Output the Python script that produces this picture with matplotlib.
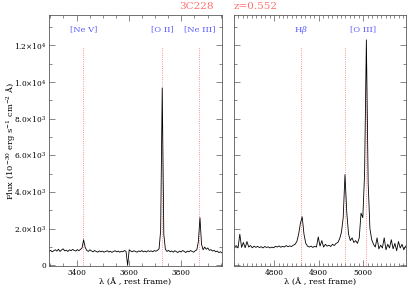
import matplotlib
matplotlib.use('Agg')
import matplotlib.pyplot as plt
import numpy as np
from matplotlib.ticker import MultipleLocator, FixedLocator, FixedFormatter

plt.rcParams['font.family'] = 'DejaVu Serif'
plt.rcParams['mathtext.fontset'] = 'dejavuserif'

# left panel spectrum, 3295..3955 A in 6 A steps
flux_left = [760, 820, 740, 800, 850, 780, 880, 760, 840, 900,
             790, 830, 760, 850, 800, 870, 820, 780, 860, 800,
             870, 950, 1400, 980, 820, 760, 850, 790, 740, 810,
             760, 720, 790, 740, 780, 720, 760, 800, 730, 770,
             710, 760, 800, 740, 780, 720, 770, 740, 810, 760,
             0, 850, 780, 740, 800, 760, 720, 790, 750, 810,
             740, 780, 730, 800, 760, 790, 740, 810, 770, 820,
             900, 1900, 9680, 1700, 880, 760, 820, 740, 790, 720,
             800, 750, 700, 780, 730, 810, 760, 700, 780, 740,
             810, 760, 720, 800, 850, 1300, 2600, 1150, 850, 1000,
             880, 950, 820, 860, 780, 820, 740, 780, 700, 740, 680]
wave_left = np.linspace(3295, 3955, len(flux_left))

# right panel spectrum, 4711..5095 A in 4 A steps
flux_right = [1000, 1080, 950, 1700, 980, 1250, 960, 1300, 1000, 1080,
              960, 1050, 980, 1040, 970, 1020, 950, 1030, 980, 1010,
              950, 1000, 960, 1040, 1000, 1060, 990, 1040, 1000, 1080,
              1020, 1060, 1030, 1100, 1150, 1300, 1700, 2300, 2650, 1700,
              1200, 1050, 1000, 1050, 980, 1040, 1000, 1550, 1050, 1350,
              1000, 1150, 1050, 1100, 1030, 1150, 1080, 1200, 1250, 1450,
              1800, 2600, 4950, 2900, 1700, 1350, 1500, 1250, 1350, 1200,
              1500, 2850, 2600, 5000, 12300, 4500, 2000, 1400, 1150, 1000,
              1500, 900, 1100, 950, 1500, 850, 1150, 950, 1400, 900,
              1200, 800, 1300, 950, 1150, 850, 1050]
wave_right = np.linspace(4711, 5095, len(flux_right))

lines_left = [3426, 3727, 3869]
names_left = ['[Ne V]', '[O II]', '[Ne III]']
lines_right = [4861, 4959, 5007]
names_right = ['H$\\beta$', '', '[O III]']
name_pos_right = [4861, 4959, 4999]

yticks = [0, 2000, 4000, 6000, 8000, 10000, 12000]
ylabels = ['0', r'2.0$\times$10$^3$', r'4.0$\times$10$^3$', r'6.0$\times$10$^3$',
           r'8.0$\times$10$^3$', r'1.0$\times$10$^4$', r'1.2$\times$10$^4$']

fig = plt.figure(figsize=(4.07, 2.90), dpi=100)
ax1 = fig.add_axes([0.1204, 0.083, 0.425, 0.865])
ax2 = fig.add_axes([0.575, 0.083, 0.4226, 0.865])

red = '#ff7070'
blue = '#5a5aff'

for ax, w, f, lns in [(ax1, wave_left, flux_left, lines_left),
                      (ax2, wave_right, flux_right, lines_right)]:
    for l in lns:
        ax.plot([l, l], [0, 11900], color=red, lw=0.6, ls=':')
    ax.plot(w, f, color='black', lw=0.6)
    ax.set_ylim(-30, 13650)
    ax.yaxis.set_major_locator(FixedLocator(yticks))
    ax.yaxis.set_minor_locator(MultipleLocator(1000))
    ax.tick_params(which='both', direction='in', top=True, right=True,
                   labelsize=5.3, color='0.35', width=0.5, pad=2)
    ax.tick_params(which='major', length=4)
    ax.tick_params(which='minor', length=2)
    for s in ax.spines.values():
        s.set_color('0.35')
        s.set_linewidth(0.6)
    ax.set_xlabel('λ (Å , rest frame)', fontsize=6, labelpad=1)

for l, n in zip(lines_left, names_left):
    ax1.text(l, 12850, n, color=blue, fontsize=6, ha='center', va='center')
for l, n in zip(name_pos_right, names_right):
    ax2.text(l, 12850, n, color=blue, fontsize=6, ha='center', va='center')

ax1.set_xlim(3295, 3955)
ax1.xaxis.set_major_locator(MultipleLocator(200))
ax1.xaxis.set_minor_locator(MultipleLocator(50))
ax1.yaxis.set_major_formatter(FixedFormatter(ylabels))
ax1.set_ylabel('Flux (10$^{-30}$ erg s$^{-1}$ cm$^{-2}$ Å)', fontsize=6, va='center')
ax1.yaxis.set_label_coords(-0.225, 0.5)

ax2.set_xlim(4710, 5096)
ax2.xaxis.set_major_locator(MultipleLocator(100))
ax2.xaxis.set_minor_locator(MultipleLocator(10))
ax2.set_yticklabels([])

fig.text(0.482, 0.977, '3C228', color=red, fontsize=7.5, ha='center', va='center')
fig.text(0.627, 0.977, 'z=0.552', color=red, fontsize=7.5, ha='center', va='center')

fig.savefig('out.png', dpi=100)
